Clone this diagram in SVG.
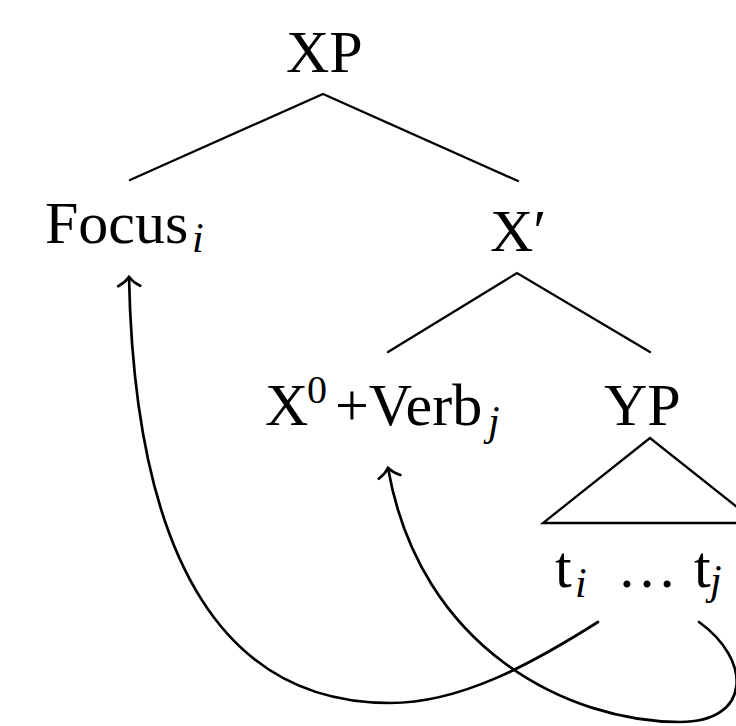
<svg xmlns="http://www.w3.org/2000/svg" width="736" height="726" viewBox="0 0 736 726">
  <style>
    .lbl { font-family: "Liberation Serif", "Times New Roman", serif; font-size: 60px; fill: #000; }
    .sub { font-family: "Liberation Serif", "Times New Roman", serif; font-size: 42px; font-style: italic; fill: #000; }
    .sup { font-family: "Liberation Serif", "Times New Roman", serif; font-size: 40px; fill: #000; }
    .edge { stroke: #000; stroke-width: 2.3; fill: none; stroke-linecap: round; stroke-linejoin: miter; }
    .mv { stroke: #000; stroke-width: 2.7; fill: none; stroke-linecap: round; }
  </style>
  <defs>
    <marker id="tip" markerUnits="userSpaceOnUse" viewBox="-14 -14 16 28" refX="0" refY="0" markerWidth="16" markerHeight="28" orient="auto">
      <path d="M -9 -11 C -6 -5 -2 -1.5 0 0 C -2 1.5 -6 5 -9 11" fill="none" stroke="#000" stroke-width="2.7" stroke-linecap="round"/>
    </marker>
  </defs>
  <rect width="736" height="726" fill="#fff"/>

  <g id="edges">
    <polyline class="edge" points="130,180 323,94 518,181"/>
    <polyline class="edge" points="388,352 517,273 650,352"/>
    <polygon class="edge" points="650,438 543,523 757,523"/>
    <path id="move-focus" class="mv" d="M 598 622 C 530 665 460 703 390 703 C 230 703 135 570 129 277" marker-end="url(#tip)"/>
    <path id="move-verb" class="mv" d="M 699 622 C 752 660 752 722 680 722 C 570 722 420 650 388 468" marker-end="url(#tip)"/>
  </g>

  <g id="node-XP"><text class="lbl" x="286" y="72">XP</text></g>
  <g id="node-Focus">
    <text class="lbl" x="45" y="243">Focus</text>
    <text class="sub" x="192" y="252">i</text>
  </g>
  <g id="node-Xbar"><text class="lbl" x="490" y="251">X′</text></g>
  <g id="node-X0Verb">
    <text class="lbl" x="265" y="425">X</text>
    <text class="sup" x="307" y="403">0</text>
    <text class="lbl" x="335" y="425">+Verb</text>
    <text class="sub" x="488" y="435">j</text>
  </g>
  <g id="node-YP"><text class="lbl" x="604" y="425">YP</text></g>
  <g id="node-traces">
    <text class="lbl" x="555" y="587">t</text>
    <text class="sub" x="575" y="597">i</text>
    <text class="lbl" x="617" y="587">…</text>
    <text class="lbl" x="694" y="587">t</text>
    <text class="sub" x="710" y="594">j</text>
  </g>
</svg>
